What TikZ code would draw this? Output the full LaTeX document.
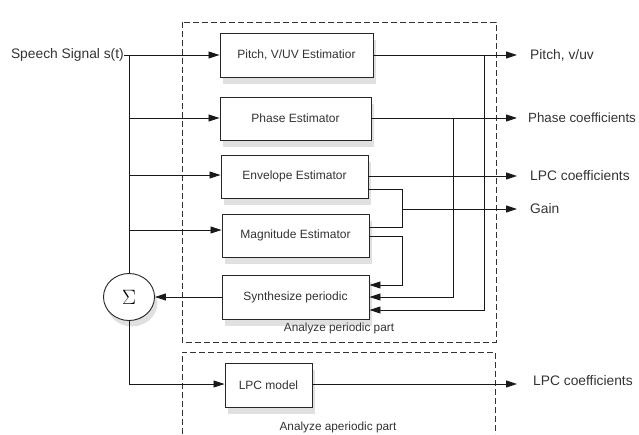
\documentclass[tikz,border=0pt]{standalone}
\usepackage{fontspec}
\setmainfont{Liberation Sans}
\usetikzlibrary{arrows.meta,shadows,calc,shapes.geometric}
\begin{document}
\begin{tikzpicture}[x=1pt,y=-1pt,
  wire/.style={draw=black!90, line width=0.85pt},
  arr/.style={wire, -{Triangle[length=11pt,width=7pt]}},
  blk/.style={draw=black!85, line width=0.9pt, fill=white, inner sep=0pt,
    font=\fontsize{12}{14}\selectfont, text=black!80,
    drop shadow={shadow xshift=3pt,shadow yshift=-7pt,opacity=0.2,fill=black!60}},
  lbl/.style={font=\fontsize{13.8}{16}\selectfont, text=black!80, inner sep=0pt},
  grpcaption/.style={font=\fontsize{11.8}{13}\selectfont, text=black!80, inner sep=0pt},
  grp/.style={draw=black!80, line width=0.9pt, dash pattern=on 6pt off 3pt}
]
\useasboundingbox (0,0) rectangle (639,434);

% group frames
\draw[grp] (182,22) rectangle (496,342);
\draw[grp] (182,434) -- (182,352) -- (495,352) -- (495,434);
\node[grpcaption] (capP) at (339,328) {Analyze periodic part};
\node[grpcaption] (capA) at (338,427) {Analyze aperiodic part};

% blocks
\node[blk, minimum width=153pt, minimum height=44pt] (pitch) at (296.5,55) {Pitch, V/UV Estimatior};
\node[blk, minimum width=151pt, minimum height=43pt] (phase) at (295.5,118.5) {Phase Estimator};
\node[blk, minimum width=147pt, minimum height=43pt] (env) at (294.5,176.5) {Envelope Estimator};
\node[blk, minimum width=147pt, minimum height=43pt] (mag) at (295.5,235.5) {Magnitude Estimator};
\node[blk, minimum width=147pt, minimum height=44pt] (syn) at (295.5,297) {Synthesize periodic};
\node[blk, minimum width=87pt, minimum height=44pt] (lpc) at (268.5,385) {LPC model};
\node[draw=black!85, line width=0.9pt, fill=white, ellipse, minimum width=51pt, minimum height=47pt, inner sep=0pt,
  drop shadow={shadow xshift=3pt,shadow yshift=-6pt,opacity=0.2,fill=black!60},
  font=\fontsize{21}{22}\selectfont] (sig) at (129,297) {$\Sigma$};

% input labels
\node[lbl, anchor=east] (sp) at (124,55) {Speech Signal s(t)};

% output labels
\node[lbl, anchor=west] (oPitch) at (530,55) {Pitch, v/uv};
\node[lbl, anchor=west, font=\fontsize{13.3}{16}\selectfont] (oPhase) at (528,118) {Phase coefficients};
\node[lbl, anchor=west] (oLpc1) at (530,176) {LPC coefficients};
\node[lbl, anchor=west] (oGain) at (530,209) {Gain};
\node[lbl, anchor=west] (oLpc2) at (533,381) {LPC coefficients};

% coordinates
\coordinate (tTop) at (129,55);
\coordinate (tPh) at (129,118);
\coordinate (tEn) at (129,175);
\coordinate (tMg) at (129,230);
\coordinate (tLp) at (129,384);
\coordinate (ePitch) at (517,55);
\coordinate (ePhase) at (517,118);
\coordinate (eLpc1) at (517,176);
\coordinate (eGain) at (517,209);
\coordinate (eLpc2) at (517,384);
\coordinate (jPitch) at (484,55);
\coordinate (jPhase) at (453,118);
\coordinate (jGain) at (402,209);

% input trunk
\draw[arr] (sp.east) -- (pitch.west);
\draw[wire] (tTop) -- (sig.north);
\draw[arr] (tPh) -- (tPh -| phase.west);
\draw[arr] (tEn) -- (tEn -| env.west);
\draw[arr] (tMg) -- (tMg -| mag.west);
\draw[wire] (sig.south) -- (tLp);
\draw[arr] (tLp) -- (tLp -| lpc.west);

% synth to sigma
\draw[arr] (syn.west) -- (sig.east);

% outputs
\draw[arr] (pitch.east) -- (ePitch);
\draw[arr] (phase.east |- ePhase) -- (ePhase);
\draw[arr] (env.east |- eLpc1) -- (eLpc1);
\draw[arr] (jGain) -- (eGain);
\draw[arr] (lpc.east |- eLpc2) -- (eLpc2);

% gain junction
\draw[wire] ($(env.east)+(0,12.5)$) -| (402,227) -- ($(mag.east)+(0,-8.5)$);
% feedback to synth
\draw[arr] ($(mag.east)+(0,0.5)$) -| (402,285) -- ($(syn.east)+(0,-12)$);
\draw[arr] (jPhase) |- ($(syn.east)+(0,0)$);
\draw[arr] (jPitch) |- ($(syn.east)+(0,13)$);
\end{tikzpicture}
\end{document}
